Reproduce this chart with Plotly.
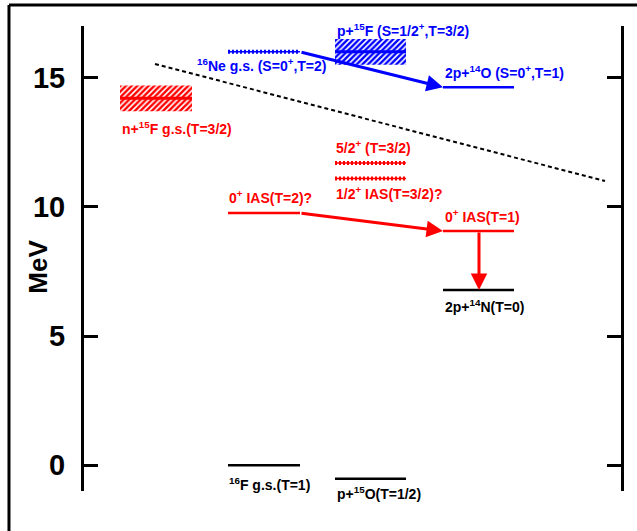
import plotly.graph_objects as go

# ---------------- data ----------------
# energy levels (MeV)
level_names = ["16F g.s.", "p+15O", "2p+14N", "0+ IAS(T=2)", "0+ IAS(T=1)",
               "5/2+", "1/2+ IAS", "16Ne g.s.", "2p+14O"]
level_energy = [0.0, -0.53, 6.78, 9.76, 9.06, 11.70, 11.10, 16.0, 14.63]
level_column = [1, 2, 3, 1, 3, 2, 2, 1, 3]
level_group = ["black", "black", "black", "red", "red", "redwavy", "redwavy", "bluewavy", "blue"]

# resonance bands (centre, half width in MeV)
band_names = ["n+15F g.s.", "p+15F"]
band_centre = [14.2, 16.0]
band_halfwidth = [0.5, 0.5]
band_column = [0, 2]
band_group = ["red", "blue"]

# decay arrows: (from level, to level)
arrow_from = ["16Ne g.s.", "0+ IAS(T=2)", "0+ IAS(T=1)"]
arrow_to = ["2p+14O", "0+ IAS(T=1)", "2p+14N"]

# dashed systematics line (x in axis units, energy in MeV)
dashed_x = [155, 605]
dashed_e = [15.53, 11.0]

label_texts = [
    "n+<sup>15</sup>F g.s.(T=3/2)",
    "<sup>16</sup>Ne g.s. (S=0<sup>+</sup>,T=2)",
    "p+<sup>15</sup>F (S=1/2<sup>+</sup>,T=3/2)",
    "2p+<sup>14</sup>O (S=0<sup>+</sup>,T=1)",
    "5/2<sup>+</sup> (T=3/2)",
    "1/2<sup>+</sup> IAS(T=3/2)?",
    "0<sup>+</sup> IAS(T=2)?",
    "0<sup>+</sup> IAS(T=1)",
    "2p+<sup>14</sup>N(T=0)",
    "<sup>16</sup>F g.s.(T=1)",
    "p+<sup>15</sup>O(T=1/2)",
]
label_colors = ["red", "blue", "blue", "blue", "red", "red", "red", "red", "black", "black", "black"]

y_ticks = [0, 5, 10, 15]
y_title = "MeV"

# ---------------- style / layout ----------------
COL_X = {0: (120, 192), 1: (228, 300), 2: (335, 406), 3: (443, 514)}
RED = "#ff0000"
BLUE = "#0000ff"
COLORS = {"black": "black", "red": RED, "blue": BLUE, "redwavy": RED, "bluewavy": BLUE}
FONT = "Liberation Sans Narrow, Arial Narrow, Liberation Sans, Arial, sans-serif"

# label placement (x start, energy, vertical anchor)
label_pos = [(120, 13.05, "middle"), (195, 15.49, "middle"), (335, 16.85, "middle"),
             (443, 15.22, "middle"), (334, 12.32, "middle"), (334, 10.53, "middle"),
             (227, 10.38, "middle"), (443, 9.64, "middle"), (443, 6.16, "middle"),
             (227, -0.72, "middle"), (335, -0.66, "top")]

fig = go.Figure()

# bands
for name, c, hw, col, grp in zip(band_names, band_centre, band_halfwidth, band_column, band_group):
    x0, x1 = COL_X[col]
    colr = COLORS[grp]
    fig.add_trace(go.Scatter(
        x=[x0, x1, x1, x0, x0], y=[c - hw, c - hw, c + hw, c + hw, c - hw],
        mode="lines", fill="toself", line=dict(width=0, color=colr),
        fillcolor="white",
        fillpattern=dict(shape="/", fgcolor=colr, bgcolor="white", fgopacity=1,
                         size=4, solidity=0.6),
        hoverinfo="skip", showlegend=False))
    fig.add_trace(go.Scatter(x=[x0, x1], y=[c, c], mode="lines",
                             line=dict(color=colr, width=3), hoverinfo="skip", showlegend=False))

# levels
for name, e, col, grp in zip(level_names, level_energy, level_column, level_group):
    x0, x1 = COL_X[col]
    colr = COLORS[grp]
    if grp.endswith("wavy"):
        fig.add_trace(go.Scatter(x=[x0, x1], y=[e, e], mode="lines",
                                 line=dict(color=colr, width=1.5), hoverinfo="skip", showlegend=False))
        fig.add_trace(go.Scatter(x=[x0, x1], y=[e, e], mode="lines",
                                 line=dict(color=colr, width=4, dash="2px,2px"),
                                 hoverinfo="skip", showlegend=False))
    else:
        fig.add_trace(go.Scatter(x=[x0, x1], y=[e, e], mode="lines",
                                 line=dict(color=colr, width=2.5), hoverinfo="skip", showlegend=False))

# dashed line
fig.add_trace(go.Scatter(x=dashed_x, y=dashed_e, mode="lines",
                         line=dict(color="black", width=2, dash="4px,3px"),
                         hoverinfo="skip", showlegend=False))

# arrows
idx = {n: i for i, n in enumerate(level_names)}
for a, b in zip(arrow_from, arrow_to):
    ia, ib = idx[a], idx[b]
    colr = COLORS[level_group[ia]]
    ca, cb = level_column[ia], level_column[ib]
    if ca == cb:
        xm = 479
        ax_, ay_, x_, y_ = xm, level_energy[ia], xm, level_energy[ib]
    else:
        ax_, ay_ = COL_X[ca][1], level_energy[ia]
        x_, y_ = COL_X[cb][0], level_energy[ib]
    fig.add_annotation(x=x_, y=y_, ax=ax_, ay=ay_, xref="x", yref="y", axref="x", ayref="y",
                       text="", showarrow=True, arrowhead=2, arrowsize=1.1, arrowwidth=3,
                       arrowcolor=colr, standoff=0, startstandoff=0)

# labels
for t, c, (lx, ly, ya) in zip(label_texts, label_colors, label_pos):
    fig.add_annotation(x=lx, y=ly, xref="x", yref="y", text=t, showarrow=False,
                       xanchor="left", yanchor=ya,
                       font=dict(family=FONT, size=14, color=COLORS[c], weight="bold"))

# y title
fig.add_annotation(x=-0.086, y=0.482, xref="paper", yref="paper", text=y_title, textangle=-90,
                   xanchor="center", yanchor="middle",
                   showarrow=False, font=dict(family=FONT, size=26, color="black", weight="bold"))

# frame (top and left edges)
fig.add_shape(type="line", xref="paper", yref="paper", x0=-0.1397, x1=1.03, y0=1.0452, y1=1.0452,
              line=dict(color="black", width=3))
fig.add_shape(type="line", xref="paper", yref="paper", x0=-0.1397, x1=-0.1397, y0=1.0452, y1=-0.09,
              line=dict(color="black", width=3))

fig.update_layout(
    width=637, height=531,
    margin=dict(l=84, r=16, t=26, b=40),
    plot_bgcolor="white", paper_bgcolor="white",
    showlegend=False,
    xaxis=dict(range=[84, 621], visible=False, fixedrange=True),
    yaxis=dict(range=[-1, 17], tickvals=y_ticks, ticktext=[str(v) for v in y_ticks],
               ticks="inside", ticklen=14, tickwidth=3, tickcolor="black",
               showline=True, linewidth=3, linecolor="black", mirror="ticks",
               showgrid=False, zeroline=False, ticklabelstandoff=10,
               tickfont=dict(family=FONT, size=29, color="black", weight="bold")),
)

fig.write_html("out.html", config={"displayModeBar": False},
               post_script="document.body.style.margin='0';document.body.style.padding='0';")
